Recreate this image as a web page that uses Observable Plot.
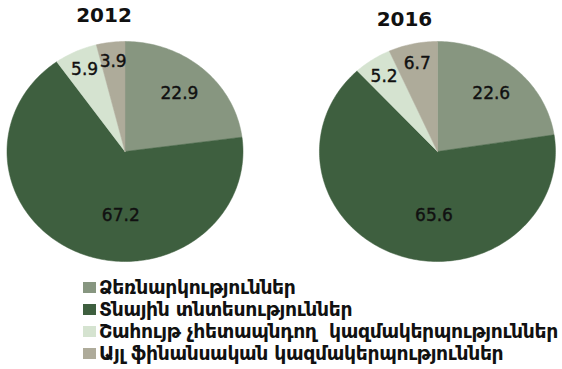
<!DOCTYPE html>
<html>
<head>
<meta charset="utf-8">
<script src="https://cdn.jsdelivr.net/npm/d3@7"></script>
<script src="https://cdn.jsdelivr.net/npm/@observablehq/plot@0.6"></script>
<style>
  html, body { margin: 0; padding: 0; background: #fff; }
  #wrap { width: 562px; position: relative; }
  .legend { margin: 8px 0 0 83px; font-family: "DejaVu Sans", sans-serif; font-size: 18.8px; color: #111; font-weight: bold; letter-spacing: -0.35px; }
  .legend .row { display: flex; align-items: center; height: 22px; white-space: pre; }
  .legend .sw { width: 13px; height: 11px; margin-right: 3px; flex: none; }
</style>
</head>
<body>
<div id="wrap"></div>
<script>
// Data
const categories = [
  "Ձեռնարկություններ",
  "Տնային տնտեսություններ",
  "Շահույթ չհետապնդող  կազմակերպություններ",
  "Այլ ֆինանսական կազմակերպություններ"
];
const years = ["2012", "2016"];
const values2012 = [22.9, 67.2, 5.9, 3.9];
const values2016 = [22.6, 65.6, 5.2, 6.7];
const colors = ["#879680", "#3e5f3f", "#d5e3d0", "#aeab9a"];

const series = [values2012, values2016];
const centersX = [0, 2.648]; // pie centres in plot units
const width = 562, height = 268;

// Build slice polygons via d3.pie
const polys = [];
const labels = [];
const titles = [];
series.forEach((vals, p) => {
  const arcs = d3.pie().sort(null)(vals);
  arcs.forEach((a, i) => {
    const n = Math.max(2, Math.ceil((a.endAngle - a.startAngle) / 0.02));
    const pts = [{x: centersX[p], y: 0}];
    for (let k = 0; k <= n; k++) {
      const t = a.startAngle + (a.endAngle - a.startAngle) * k / n;
      pts.push({x: centersX[p] + Math.sin(t), y: Math.cos(t)});
    }
    pts.push({x: centersX[p], y: 0});
    pts.forEach(pt => polys.push({...pt, key: p + "-" + i, cat: categories[i]}));
    let mid = (a.startAngle + a.endAngle) / 2;
    const v = vals[i];
    let r = v < 10 ? 0.82 : v < 50 ? 0.7 : 0.58;
    if (v > 50) mid = Math.PI + (mid - Math.PI) * 0.15;
    labels.push({x: centersX[p] + r * Math.sin(mid), y: r * Math.cos(mid), text: v.toFixed(1)});
  });
  titles.push({x: centersX[p], y: 1, text: years[p], p});
});

const chart = Plot.plot({
  width, height,
  margin: 0,
  x: {domain: [-1.055, -1.055 + width / 118], axis: null},
  y: {domain: [(151 - height) / 110, 151 / 110], axis: null},
  color: {domain: categories, range: colors},
  style: {background: "#fff"},
  marks: [
    Plot.line(polys, {x: "x", y: "y", z: "key", fill: "cat", stroke: "cat", strokeWidth: 0.5, curve: "linear-closed"}),
    Plot.text(labels, {x: "x", y: "y", text: "text", fontSize: 17, fill: "#111", stroke: "#111", strokeWidth: 0.4, fontFamily: "DejaVu Sans", letterSpacing: -0.8}),
    Plot.text(titles.filter(d => d.p === 0), {x: "x", y: "y", text: "text", dx: -21, dy: -26, fontSize: 20, fontWeight: "bold", fill: "#111", fontFamily: "DejaVu Sans", letterSpacing: -0.5}),
    Plot.text(titles.filter(d => d.p === 1), {x: "x", y: "y", text: "text", dx: -33, dy: -22, fontSize: 20, fontWeight: "bold", fill: "#111", fontFamily: "DejaVu Sans", letterSpacing: -0.5})
  ]
});

const wrap = document.getElementById("wrap");
wrap.appendChild(chart);
const leg = document.createElement("div");
leg.className = "legend";
categories.forEach((c, i) => {
  const row = document.createElement("div");
  row.className = "row";
  const sw = document.createElement("span");
  sw.className = "sw";
  sw.style.background = colors[i];
  const tx = document.createElement("span");
  tx.textContent = c;
  row.appendChild(sw);
  row.appendChild(tx);
  leg.appendChild(row);
});
wrap.appendChild(leg);
</script>
</body>
</html>
